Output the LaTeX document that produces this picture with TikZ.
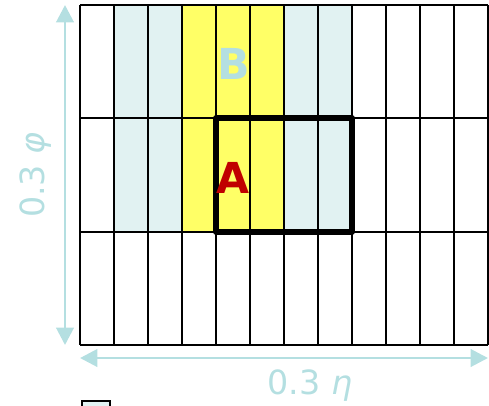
\documentclass[tikz,border=0pt]{standalone}
\usepackage{fontspec}
\setmainfont{DejaVu Sans}
\usetikzlibrary{arrows.meta}
\definecolor{lblue}{HTML}{E1F2F2}
\definecolor{yel}{HTML}{FFFF66}
\definecolor{arr}{HTML}{B4DFE1}
\definecolor{ared}{HTML}{C00000}
\tikzset{
  gridline/.style={draw=black, line width=1.5pt},
  dimarrow/.style={draw=arr, line width=2.2pt, {Triangle[length=13pt,width=13pt]}-{Triangle[length=13pt,width=13pt]}},
  dimlabel/.style={text=arr, font=\fontsize{25}{25}\selectfont},
  biglabel/.style={font=\fontsize{32}{32}\selectfont\bfseries},
}
\begin{document}
\begin{tikzpicture}[x=0.75pt,y=-0.75pt]
\useasboundingbox (0,0) rectangle (489,405);
% fills
\fill[lblue] (114,5) rectangle (182,232);
\fill[yel] (182,5) rectangle (284,232);
\fill[lblue] (284,5) rectangle (352,232);
% grid
\foreach \x in {80,114,...,488} \draw[gridline] (\x,5) -- (\x,345);
\foreach \y in {5,118.3,231.7,345} \draw[gridline] (80,\y) -- (488,\y);
% thick box
\draw[line width=4.5pt, line join=round] (216,118.3) rectangle (352,231.7);
% labels
\node[biglabel, text=arr] (B) at (234,64) {B};
\node[biglabel, text=ared] (A) at (233,178) {A};
% dimension arrows
\coordinate (vt) at (65,5);
\coordinate (vb) at (65,345);
\coordinate (hl) at (80,358);
\coordinate (hr) at (488,358);
\draw[dimarrow] (vt) -- (vb);
\draw[dimarrow] (hl) -- (hr);
\node[dimlabel, rotate=90] (phi) at (36,175) {0.3 \textit{φ}};
\node[dimlabel] (eta) at (310,386) {0.3 \textit{η}};
% legend square (cut off)
\draw[fill=lblue, line width=1.5pt] (82,401) rectangle (110,412);
\end{tikzpicture}
\end{document}
